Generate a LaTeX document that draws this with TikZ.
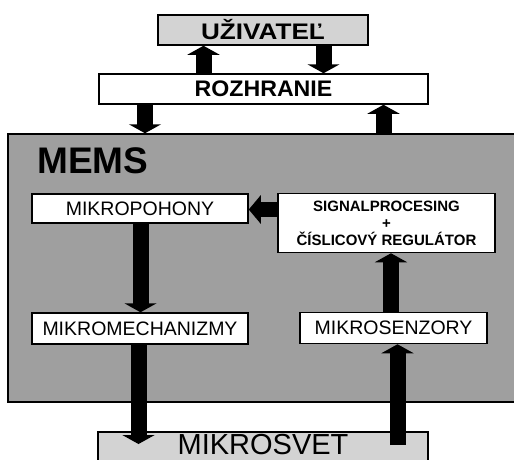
\documentclass[tikz,border=0pt]{standalone}
\usepackage{fontspec}
\setmainfont{Liberation Sans}
\usetikzlibrary{arrows.meta,backgrounds}
\definecolor{memsgray}{HTML}{9F9F9F}
\definecolor{ltgray}{HTML}{D3D3D3}
\begin{document}
\begin{tikzpicture}[x=1pt,y=-1pt,
  box/.style={draw=black, line width=1.5pt, fill=white, inner sep=0pt, align=center},
  blk/.style={draw=black, line width=16pt, -{Triangle[width=32pt,length=9pt]}},
  blkh/.style={draw=black, line width=15pt, -{Triangle[width=28pt,length=12pt]}},
  small/.style={font=\fontsize{19.5}{20}\selectfont}
]
\clip (0,0) rectangle (514,459);

% MEMS container
\node[box, fill=memsgray, minimum width=522pt, minimum height=268pt] (mems) at (269,268) {};
\node[anchor=base west, inner sep=0pt, font=\fontsize{37}{37}\selectfont\bfseries] (memslbl) at (37,173) {MEMS};

% top boxes
\node[box, fill=ltgray, minimum width=210pt, minimum height=30pt,
      font=\fontsize{22.5}{22.5}\selectfont\bfseries] (uziv) at (263,30) {\scalebox{1.16}[1]{UŽIVATEĽ}};
\node[box, minimum width=329pt, minimum height=30pt,
      font=\fontsize{22.5}{22.5}\selectfont\bfseries] (roz) at (263.5,89) {\scalebox{1.03}[1]{ROZHRANIE}};

% inner boxes
\node[box, small, minimum width=216pt, minimum height=29pt] (poh) at (140,208.5) {MIKROPOHONY};
\node[box, minimum width=217pt, minimum height=59pt,
      font=\fontsize{15}{17}\selectfont\bfseries] (sig) at (386.5,223) {SIGNALPROCESING\\+\\ČÍSLICOVÝ REGULÁTOR};
\node[box, small, minimum width=216pt, minimum height=31pt] (mech) at (140,328.5) {MIKROMECHANIZMY};
\node[box, small, minimum width=187pt, minimum height=31pt] (senz) at (393.5,328) {MIKROSENZORY};

% bottom box (cut by the lower edge of the picture)
\node[anchor=north, minimum width=330pt, minimum height=24pt, inner sep=0pt,
      font=\fontsize{29}{29}\selectfont] (svet) at (263,432) {MIKROSVET};
\begin{pgfonlayer}{background}
  \fill[white] (0,0) rectangle (514,459);
  \filldraw[fill=ltgray, line width=1.5pt] ([yshift=-8pt]svet.south west) |- (svet.north east) -- ([yshift=-8pt]svet.south east);
\end{pgfonlayer}

% arrow columns
\coordinate (c1) at (203.5,0);
\coordinate (c2) at (323.5,0);
\coordinate (c3) at (145,0);
\coordinate (c4) at (383.5,0);
\coordinate (c5) at (0,209.5);
\coordinate (c6) at (140.5,0);
\coordinate (c7) at (138.5,0);
\coordinate (c8) at (397.5,0);
\coordinate (c9) at (391,0);

% arrows
\draw[blk] (roz.north -| c1) -- (uziv.south -| c1);
\draw[blk] (uziv.south -| c2) -- (roz.north -| c2);
\draw[blk] (roz.south -| c3) -- (mems.north -| c3);
\draw[blk] (mems.north -| c4) -- (roz.south -| c4);
\draw[blkh] (sig.west |- c5) -- (poh.east |- c5);
\draw[blk] (poh.south -| c6) -- (mech.north -| c6);
\draw[blk] (mech.south -| c7) -- ([yshift=-12pt]svet.north -| c7);
\draw[blk] ([yshift=-13pt]svet.north -| c8) -- (senz.south -| c8);
\draw[blk] (senz.north -| c9) -- (sig.south -| c9);
\end{tikzpicture}
\end{document}
